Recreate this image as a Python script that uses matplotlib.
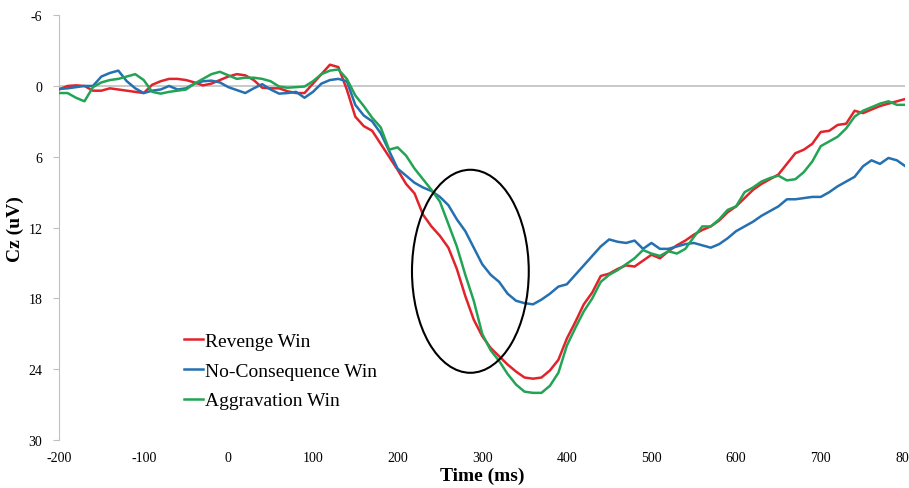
import numpy as np
import matplotlib
matplotlib.use('Agg')
import matplotlib.pyplot as plt
from matplotlib.patches import Ellipse

plt.rcParams['font.family'] = 'Liberation Serif'
plt.rcParams['axes.unicode_minus'] = False

# time axis in ms (10 ms steps)
time_ms = np.arange(-200, 801, 10)

revenge_win = [0.3, 0.0, -0.05, 0.0, 0.4, 0.4, 0.2, 0.3, 0.4, 0.5,
               0.6, -0.1, -0.4, -0.6, -0.6, -0.5, -0.3, -0.05, -0.2, -0.5,
               -0.8, -1.0, -0.9, -0.5, 0.15, 0.2, 0.2, 0.45, 0.6, 0.6,
               -0.2, -1.0, -1.8, -1.6, 0.3, 2.6, 3.4, 3.8, 4.9, 6.0,
               7.1, 8.3, 9.1, 10.9, 11.9, 12.7, 13.7, 15.5, 17.8, 19.8,
               21.2, 22.2, 22.9, 23.6, 24.2, 24.7, 24.8, 24.7, 24.1, 23.2,
               21.4, 20.0, 18.5, 17.5, 16.1, 15.9, 15.5, 15.2, 15.3, 14.8,
               14.3, 14.6, 14.0, 13.5, 13.1, 12.6, 12.2, 11.9, 11.4, 10.7,
               10.2, 9.5, 8.8, 8.3, 7.9, 7.5, 6.6, 5.7, 5.4, 4.9,
               3.9, 3.8, 3.3, 3.2, 2.1, 2.3, 2.0, 1.7, 1.5, 1.3,
               1.1]

no_consequence_win = [0.25, 0.2, 0.1, 0.0, 0.0, -0.8, -1.1, -1.3, -0.4, 0.2,
                      0.6, 0.4, 0.3, 0.0, 0.3, 0.2, -0.2, -0.4, -0.45, -0.3,
                      0.1, 0.35, 0.6, 0.2, -0.15, 0.3, 0.65, 0.6, 0.5, 1.0,
                      0.5, -0.2, -0.5, -0.6, -0.4, 1.6, 2.5, 3.0, 4.0, 5.5,
                      7.0, 7.6, 8.2, 8.6, 8.9, 9.4, 10.1, 11.3, 12.3, 13.7,
                      15.1, 16.0, 16.6, 17.6, 18.2, 18.4, 18.5, 18.1, 17.6, 17.0,
                      16.8, 16.0, 15.2, 14.4, 13.6, 13.0, 13.2, 13.3, 13.1, 13.8,
                      13.3, 13.8, 13.8, 13.6, 13.4, 13.3, 13.5, 13.7, 13.4, 12.9,
                      12.3, 11.9, 11.5, 11.0, 10.6, 10.2, 9.6, 9.6, 9.5, 9.4,
                      9.4, 9.0, 8.5, 8.1, 7.7, 6.8, 6.3, 6.6, 6.1, 6.3,
                      6.8]

aggravation_win = [0.6, 0.6, 1.0, 1.3, 0.1, -0.3, -0.5, -0.6, -0.8, -1.0,
                   -0.5, 0.5, 0.65, 0.5, 0.4, 0.3, -0.2, -0.6, -1.0, -1.2,
                   -0.9, -0.6, -0.7, -0.7, -0.6, -0.4, 0.05, 0.15, 0.1, 0.05,
                   -0.4, -1.0, -1.3, -1.4, -0.6, 0.8, 1.7, 2.7, 3.5, 5.4,
                   5.2, 5.9, 7.0, 7.9, 8.8, 9.8, 11.7, 13.6, 16.0, 18.2,
                   21.0, 22.4, 23.3, 24.4, 25.3, 25.9, 26.0, 26.0, 25.4, 24.3,
                   22.0, 20.5, 19.1, 18.0, 16.6, 16.0, 15.6, 15.1, 14.6, 13.9,
                   14.2, 14.4, 14.0, 14.2, 13.8, 12.8, 11.9, 11.9, 11.3, 10.5,
                   10.2, 9.0, 8.6, 8.1, 7.8, 7.6, 8.0, 7.9, 7.3, 6.4,
                   5.1, 4.7, 4.3, 3.6, 2.6, 2.1, 1.8, 1.5, 1.3, 1.6,
                   1.6]

series_names = ['Revenge Win', 'No-Consequence Win', 'Aggravation Win']
series_colors = ['#e1242b', '#2470b0', '#23a455']

x_ticks = [-200, -100, 0, 100, 200, 300, 400, 500, 600, 700, 800]
y_ticks = [-6, 0, 6, 12, 18, 24, 30]

fig = plt.figure(figsize=(9.09, 4.89), dpi=100)
ax = fig.add_axes([0.065, 0.098, 0.931, 0.869])

ax.axhline(0, color='#c0c0c0', lw=1.2, zorder=1)
for vals, name, col in zip([revenge_win, no_consequence_win, aggravation_win],
                           series_names, series_colors):
    ax.plot(time_ms, vals, color=col, lw=1.8, label=name, zorder=3)

# circled region of interest
ax.add_patch(Ellipse((286, 15.7), 138, 17.2, fill=False, ec='black', lw=1.5, zorder=4))

ax.set_xlim(-200, 800)
ax.set_ylim(30, -6)
ax.set_xticks(x_ticks)
ax.set_yticks(y_ticks)
ax.tick_params(axis='x', length=0, pad=8, labelsize=10)
ax.tick_params(axis='y', length=4, color='#c0c0c0', pad=8, labelsize=10)

for s in ['top', 'right', 'bottom']:
    ax.spines[s].set_visible(False)
ax.spines['left'].set_color('#c0c0c0')

ax.set_xlabel('Time (ms)', fontsize=14, fontweight='bold', labelpad=2)
ax.set_ylabel('Cz (uV)', fontsize=14, fontweight='bold', labelpad=3)

ax.legend(loc='upper left', bbox_to_anchor=(0.148, 0.254), frameon=False,
          fontsize=14, handlelength=0.95, handletextpad=0.1, borderpad=0,
          borderaxespad=0, labelspacing=0.63)

fig.savefig('out.png', dpi=100)
